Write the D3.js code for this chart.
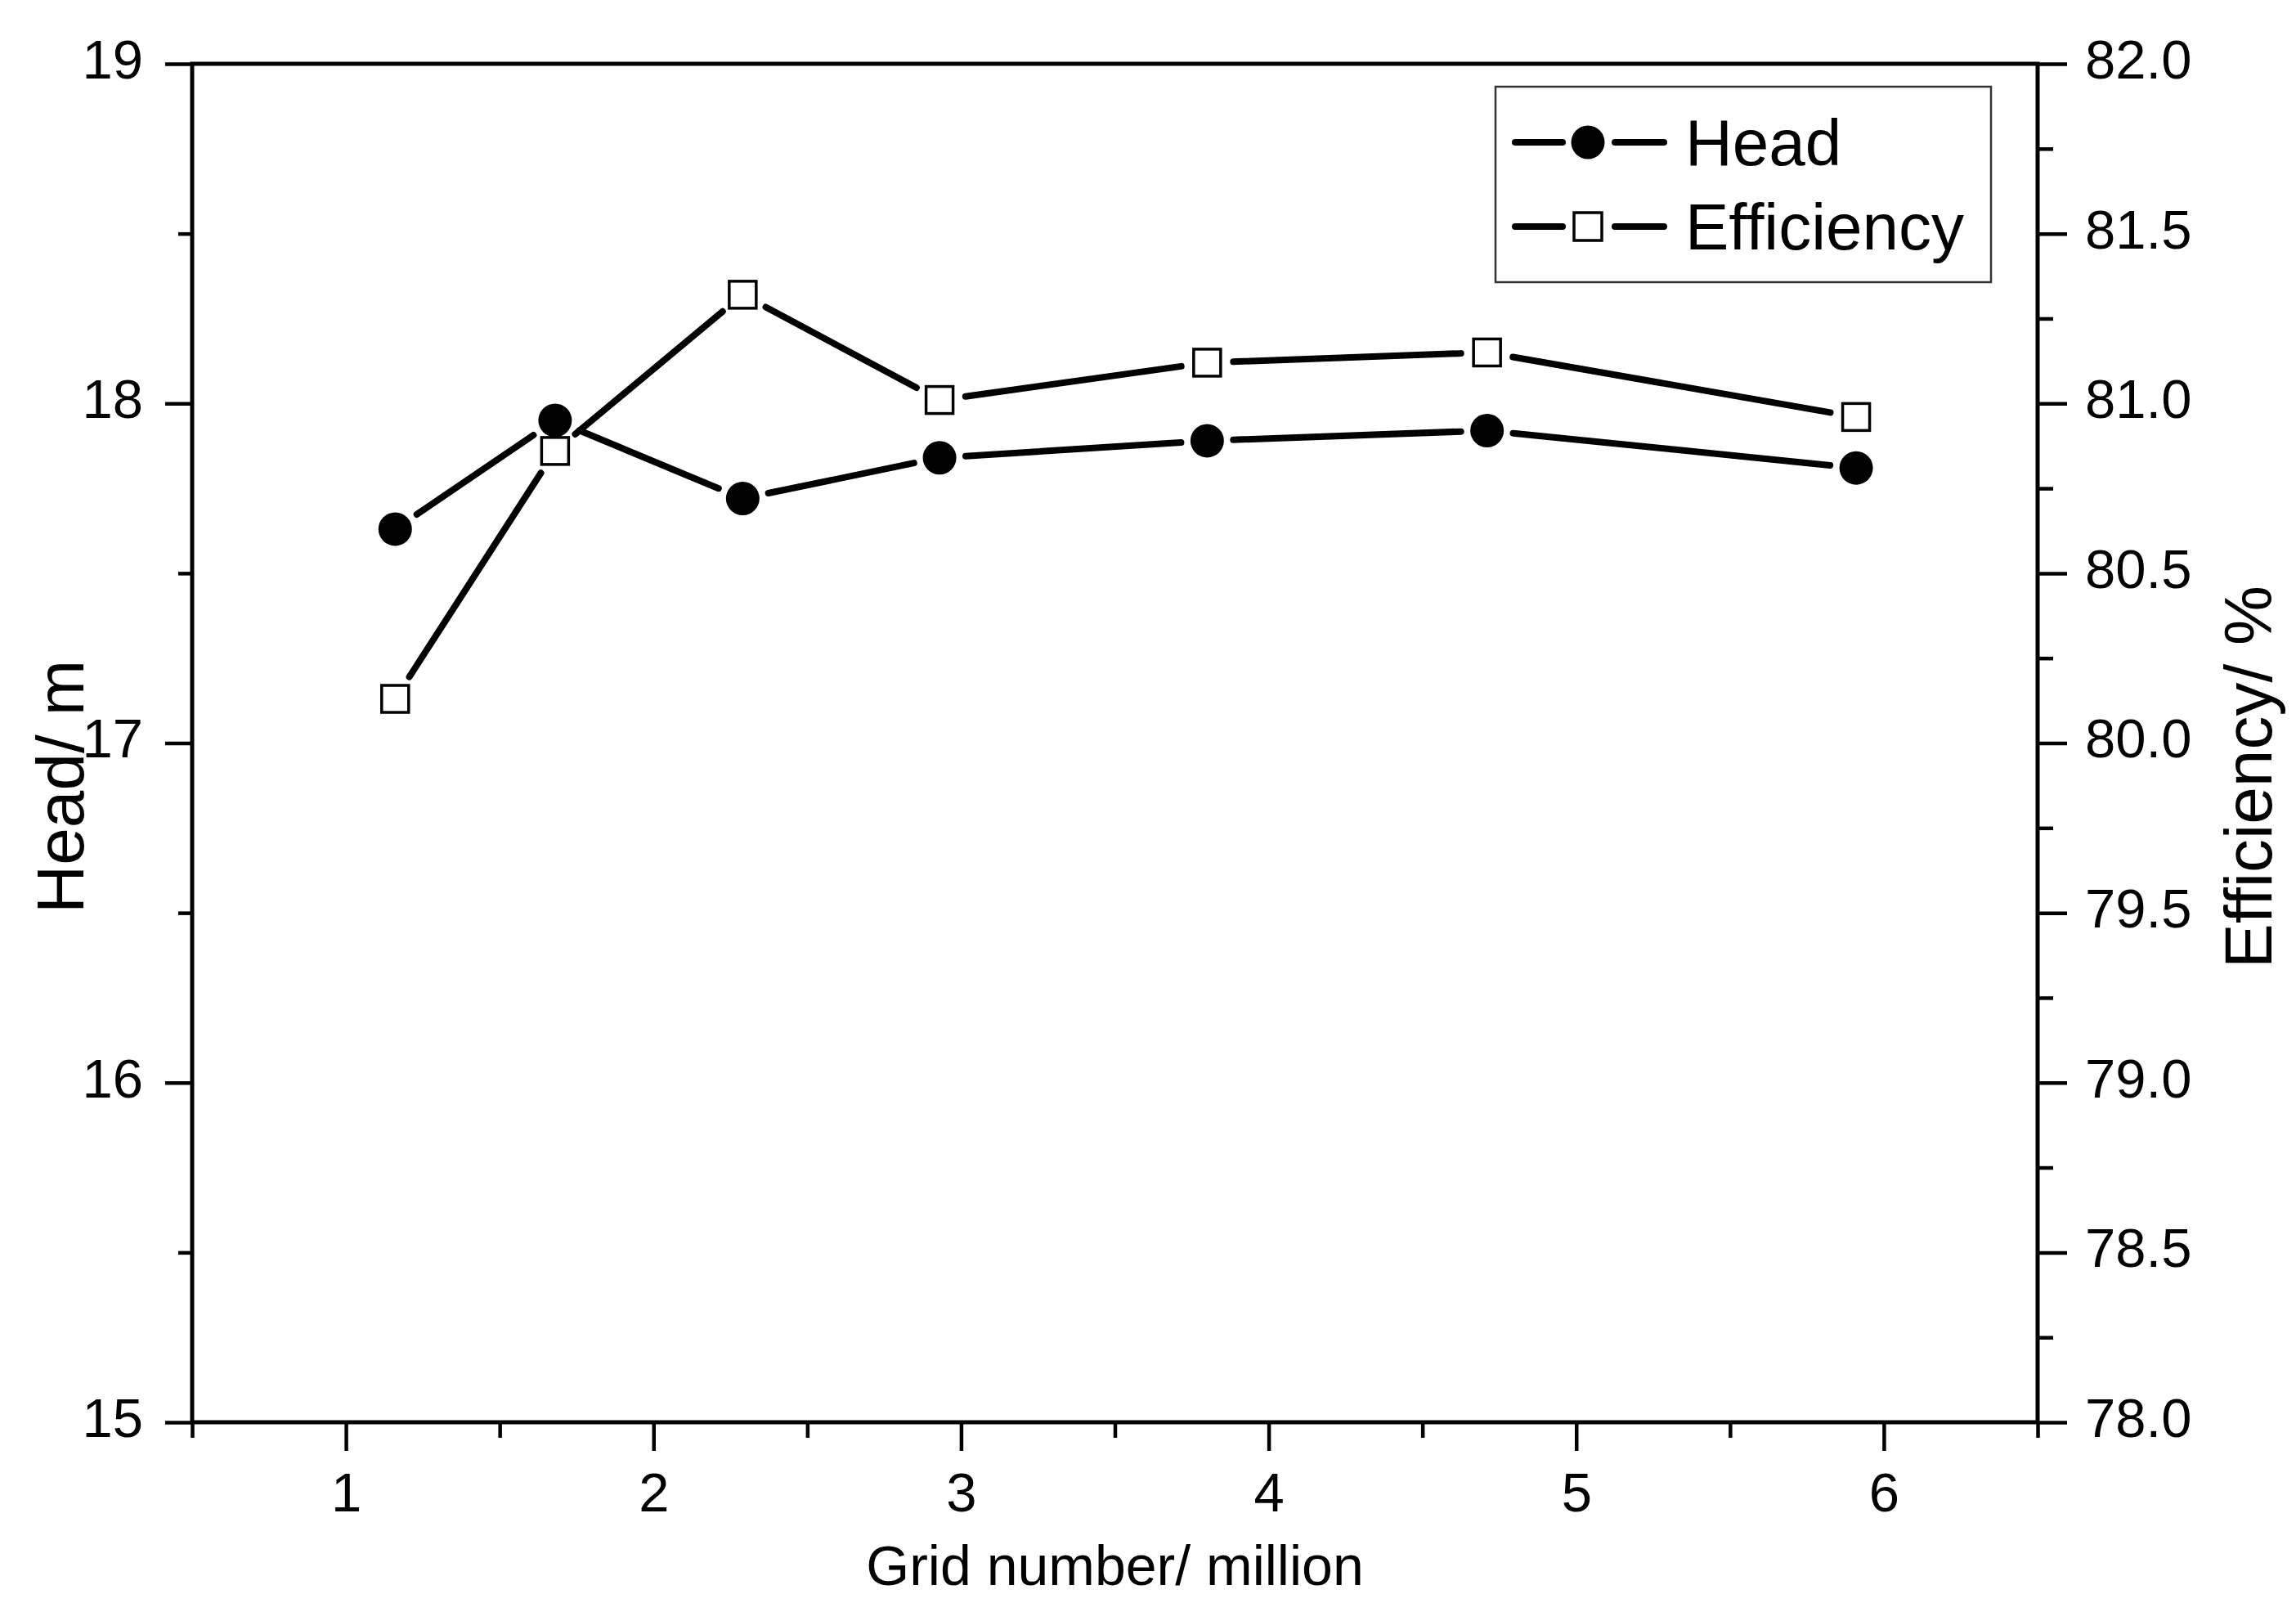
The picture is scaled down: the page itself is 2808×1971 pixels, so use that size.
<!DOCTYPE html>
<html>
<head>
<meta charset="utf-8">
<script src="https://cdn.jsdelivr.net/npm/d3@7"></script>
<style>
  html, body { margin: 0; padding: 0; background: #fff; }
  svg { display: block; }
  text { font-family: "Liberation Sans", Arial, Helvetica, sans-serif; fill: #000; }
</style>
</head>
<body>
<svg id="chart" width="2808" height="1971"></svg>
<script>
// ---- data ----
const gridNumbers = [1.16, 1.68, 2.29, 2.93, 3.80, 4.71, 5.91];
const headValues = [17.63, 17.95, 17.72, 17.84, 17.89, 17.92, 17.81];
const efficiencyValues = [80.13, 80.86, 81.32, 81.01, 81.12, 81.15, 80.96];
const xTicks = [1, 2, 3, 4, 5, 6];
const xMinorTicks = [0.5, 1.5, 2.5, 3.5, 4.5, 5.5, 6.5];
const headTicks = [15, 16, 17, 18, 19];
const headMinorTicks = [15.5, 16.5, 17.5, 18.5];
const effTicks = [78.0, 78.5, 79.0, 79.5, 80.0, 80.5, 81.0, 81.5, 82.0];
const effMinorTicks = [78.25, 78.75, 79.25, 79.75, 80.25, 80.75, 81.25, 81.75];
const seriesNames = ["Head", "Efficiency"];
const xTitle = "Grid number/ million";
const yLeftTitle = "Head/ m";
const yRightTitle = "Efficiency/ %";

// ---- layout ----
const L = 235, R = 2492, T = 78, B = 1739;
const svg = d3.select("#chart");

const x = d3.scaleLinear().domain([0.5, 6.5]).range([L, R]);
const yH = d3.scaleLinear().domain([15, 19]).range([B, T]);
const yE = d3.scaleLinear().domain([78, 82]).range([B, T]);

const FS = 67;

function styleAxis(g) {
  g.select(".domain").remove();
  g.selectAll(".tick line").attr("stroke", "#000").attr("stroke-width", 4.5);
  g.selectAll(".tick text").attr("font-size", FS).attr("fill", "#000")
    .style("font-family", '"Liberation Sans", Arial, sans-serif');
}

// bottom axis
svg.append("g").attr("transform", `translate(0,${B})`)
  .call(d3.axisBottom(x).tickValues(xMinorTicks).tickSize(19).tickFormat(""))
  .call(g => styleAxis(g));
svg.append("g").attr("transform", `translate(0,${B})`)
  .call(d3.axisBottom(x).tickValues(xTicks).tickSize(35).tickPadding(26).tickFormat(d3.format("d")))
  .call(g => styleAxis(g));

// left axis
svg.append("g").attr("transform", `translate(${L},0)`)
  .call(d3.axisLeft(yH).tickValues(headMinorTicks).tickSize(17).tickFormat(""))
  .call(g => styleAxis(g));
svg.append("g").attr("transform", `translate(${L},0)`)
  .call(d3.axisLeft(yH).tickValues(headTicks).tickSize(33).tickPadding(27).tickFormat(d3.format("d")))
  .call(g => { styleAxis(g); g.selectAll(".tick text").attr("dy", "0.26em"); });

// right axis
svg.append("g").attr("transform", `translate(${R},0)`)
  .call(d3.axisRight(yE).tickValues(effMinorTicks).tickSize(19).tickFormat(""))
  .call(g => styleAxis(g));
svg.append("g").attr("transform", `translate(${R},0)`)
  .call(d3.axisRight(yE).tickValues(effTicks).tickSize(36).tickPadding(22).tickFormat(d3.format(".1f")))
  .call(g => { styleAxis(g); g.selectAll(".tick text").attr("dy", "0.26em"); });

// frame
svg.append("rect").attr("x", L).attr("y", T).attr("width", R - L).attr("height", B - T)
  .attr("fill", "none").attr("stroke", "#000").attr("stroke-width", 5);

// titles
svg.append("text").attr("x", (L + R) / 2).attr("y", 1938).attr("text-anchor", "middle")
  .attr("font-size", 68).text(xTitle);
svg.append("text").attr("transform", "translate(102,962) rotate(-90)").attr("text-anchor", "middle")
  .attr("font-size", 82).text(yLeftTitle);
svg.append("text").attr("transform", "translate(2778,950) rotate(-90)").attr("text-anchor", "middle")
  .attr("font-size", 82).text(yRightTitle);

// series drawing with gaps near markers
const GAP = 32;
function drawSeries(yScale, values, kind) {
  const pts = gridNumbers.map((g, i) => [x(g), yScale(values[i])]);
  const segs = [];
  for (let i = 0; i < pts.length - 1; i++) {
    const [x1, y1] = pts[i], [x2, y2] = pts[i + 1];
    const dx = x2 - x1, dy = y2 - y1, d = Math.hypot(dx, dy);
    if (d <= 2 * GAP) continue;
    const ux = dx / d, uy = dy / d;
    segs.push([x1 + ux * GAP, y1 + uy * GAP, x2 - ux * GAP, y2 - uy * GAP]);
  }
  const gs = svg.append("g");
  gs.selectAll("line").data(segs).join("line")
    .attr("x1", s => s[0]).attr("y1", s => s[1]).attr("x2", s => s[2]).attr("y2", s => s[3])
    .attr("stroke", "#000").attr("stroke-width", 8).attr("stroke-linecap", "round");
  if (kind === "circle") {
    gs.selectAll("circle").data(pts).join("circle")
      .attr("cx", p => p[0]).attr("cy", p => p[1]).attr("r", 20.5).attr("fill", "#000");
  } else {
    gs.selectAll("rect").data(pts).join("rect")
      .attr("x", p => p[0] - 16.5).attr("y", p => p[1] - 16.5).attr("width", 33).attr("height", 33)
      .attr("fill", "#fff").attr("stroke", "#000").attr("stroke-width", 3.5);
  }
}
drawSeries(yH, headValues, "circle");
drawSeries(yE, efficiencyValues, "square");

// legend
const lg = svg.append("g");
lg.append("rect").attr("x", 1829).attr("y", 106).attr("width", 606).attr("height", 239)
  .attr("fill", "#fff").attr("stroke", "#333").attr("stroke-width", 2.5);
const rows = [{ y: 174, name: seriesNames[0], kind: "circle" }, { y: 277, name: seriesNames[1], kind: "square" }];
rows.forEach(r => {
  lg.append("line").attr("x1", 1853).attr("x2", 1911).attr("y1", r.y).attr("y2", r.y)
    .attr("stroke", "#000").attr("stroke-width", 8).attr("stroke-linecap", "round");
  lg.append("line").attr("x1", 1975).attr("x2", 2035).attr("y1", r.y).attr("y2", r.y)
    .attr("stroke", "#000").attr("stroke-width", 8).attr("stroke-linecap", "round");
  if (r.kind === "circle") {
    lg.append("circle").attr("cx", 1942).attr("cy", r.y).attr("r", 20.5).attr("fill", "#000");
  } else {
    lg.append("rect").attr("x", 1942 - 17).attr("y", r.y - 17).attr("width", 34).attr("height", 34)
      .attr("fill", "#fff").attr("stroke", "#000").attr("stroke-width", 3.5);
  }
  lg.append("text").attr("x", 2061).attr("y", r.y + 28).attr("font-size", 80).text(r.name);
});
</script>
</body>
</html>
